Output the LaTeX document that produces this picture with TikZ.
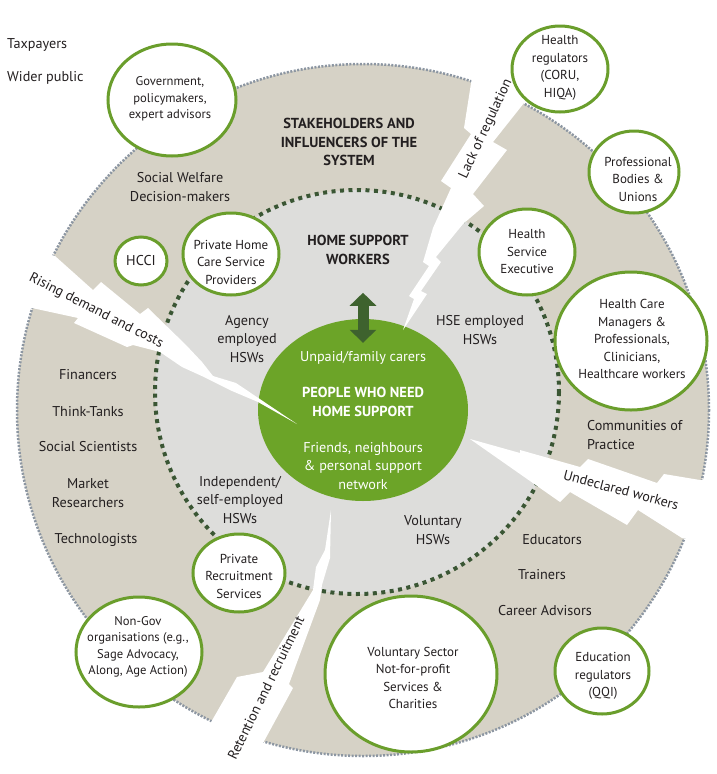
\documentclass[tikz,border=0pt]{standalone}
\usepackage{fontspec}
\setmainfont{PT Sans}
\usetikzlibrary{shapes.geometric,arrows.meta}

\definecolor{sand}{RGB}{214,210,198}
\definecolor{mist}{RGB}{221,221,219}
\definecolor{leaf}{RGB}{108,164,40}
\definecolor{rim}{RGB}{106,158,44}
\definecolor{pine}{RGB}{58,86,52}
\definecolor{moss}{RGB}{62,98,46}
\definecolor{slate}{RGB}{140,150,162}
\definecolor{ink}{RGB}{35,31,32}

\tikzset{
  txt/.style={text=ink, align=center, inner sep=0pt, font=\fontsize{14.2}{18.5}\selectfont},
  small/.style={text=ink, align=center, inner sep=0pt, font=\fontsize{13}{17.5}\selectfont},
  tiny/.style={text=ink, align=center, inner sep=0pt, font=\fontsize{12.6}{16.5}\selectfont},
  head/.style={txt, font=\fontsize{14.5}{18.5}\selectfont\bfseries},
  tag/.style={txt, font=\fontsize{14}{15}\selectfont},
  bubble/.style={ellipse, draw=rim, line width=3pt, fill=white, inner sep=0pt},
  crack/.style={fill=white},
  updown/.style={draw=moss, line width=11pt, arrows={Triangle[width=26pt,length=13pt]-Triangle[width=26pt,length=13pt]}},
}

\begin{document}
\begin{tikzpicture}[x=1pt,y=-1pt]
\useasboundingbox (0,0) rectangle (716,774);

% outer ring of stakeholders
\fill[sand] (363,410) circle[radius=346];
\draw[slate, line width=2.5pt, dash pattern=on 2pt off 1.5pt] (363,410) circle[radius=346];

% home support workers
\fill[mist] (357,392) circle[radius=202];
\draw[pine, line width=4pt, dash pattern=on 4pt off 4.5pt] (357,392) circle[radius=202];

\node[ellipse, fill=leaf, minimum width=210pt, minimum height=182pt] (people) at (363,410) {};

% cracks
\fill[crack] (478,40) -- (472,77) -- (464,128) -- (471,134) -- (441,181) -- (451,188)
  -- (433,228) -- (423,262) -- (429,266) -- (409,296) -- (414,299) -- (403,330)
  -- (427,294) -- (421,291) -- (441,262) -- (436,257) -- (463,224) -- (484,206)
  -- (473,194) -- (507,150) -- (493,142) -- (524,103) -- (545,40) -- cycle;
\fill[crack] (0,240) -- (55,256) -- (93,290) -- (101,282) -- (140,314) -- (148,308)
  -- (186,345) -- (202,362) -- (213,376) -- (236,383) -- (297,424)
  -- (258,402) -- (232,391) -- (204,377) -- (182,367) -- (160,352) -- (133,345)
  -- (127,347) -- (74,323) -- (78,318) -- (32,308) -- (0,304) -- cycle;
\fill[crack] (470,439) -- (520,453) -- (520,450) -- (580,467) -- (588,459) -- (657,483)
  -- (664,474) -- (700,480) -- (716,481) -- (716,545) -- (682,538) -- (638,510)
  -- (627,525) -- (570,492) -- (560,502) -- cycle;
\fill[crack] (331,510) -- (325,550) -- (316,567) -- (313,590) -- (263,672) -- (237,677)
  -- (210,724) -- (195,774) -- (255,774) -- (262,745) -- (293,688) -- (289,684)
  -- (320,600) -- (322,585) -- (330,558) -- cycle;

\draw[updown] ([yshift=-24pt]people.north) -- ([yshift=26pt]people.north);

% circles
\node[bubble, minimum width=128pt, minimum height=112pt] (gov) at (172,100) {};
\node[bubble, minimum width=52pt, minimum height=48pt] (hcci) at (141,261) {};
\node[bubble, minimum width=96pt, minimum height=82pt] (homecare) at (231,254) {};
\node[bubble, minimum width=96pt, minimum height=86pt] (hse) at (527,252) {};
\node[bubble, minimum width=96pt, minimum height=86pt] (healthreg) at (560,69) {};
\node[bubble, minimum width=90pt, minimum height=82pt] (profbody) at (634,172) {};
\node[bubble, minimum width=152pt, minimum height=138pt] (managers) at (631,341) {};
\node[bubble, minimum width=92pt, minimum height=78pt] (recruit) at (239,573) {};
\node[bubble, minimum width=126pt, minimum height=110pt] (nongov) at (139,652) {};
\node[bubble, minimum width=172pt, minimum height=156pt] (volsector) at (411,674) {};
\node[bubble, minimum width=94pt, minimum height=86pt] (edureg) at (602,671) {};

\node[tiny] (gov-t) at (170,99) {Government,\\policymakers,\\expert advisors};
\node[txt] (hcci-t) at (hcci) {HCCI};
\node[small] (homecare-t) at (231,262) {Private Home\\Care Service\\Providers};
\node[small] (hse-t) at (527,252) {Health\\Service\\Executive};
\node[small] (healthreg-t) at (560,68) {Health\\regulators\\(CORU,\\HIQA)};
\node[small] (profbody-t) at (638,179) {Professional\\Bodies \&\\Unions};
\node[small] (managers-t) at (632,339) {Health Care\\Managers \&\\Professionals,\\Clinicians,\\Healthcare workers};
\node[small] (recruit-t) at (239,576) {Private\\Recruitment\\Services};
\node[tiny] (nongov-t) at (138,647) {Non-Gov\\organisations (e.g.,\\Sage Advocacy,\\Along, Age Action)};
\node[small] (volsector-t) at (413,678) {Voluntary Sector\\Not-for-profit\\Services \&\\Charities};
\node[small] (edureg-t) at (603,676) {Education\\regulators\\(QQI)};

% centre
\node[txt, text=white] (unpaid) at (363,358) {Unpaid/family carers};
\node[head, text=white] (needs) at (363,402) {PEOPLE WHO NEED\\HOME SUPPORT};
\node[txt, text=white] (friends) at (363,466) {Friends, neighbours\\\& personal support\\network};

% labels
\node[txt, anchor=west] (taxpayers) at (7,45) {Taxpayers};
\node[txt, anchor=west] (public) at (7,78) {Wider public};
\node[head] (stakeholders) at (349,142) {STAKEHOLDERS AND\\INFLUENCERS OF THE\\SYSTEM};
\node[txt] (welfare) at (180,187) {Social Welfare\\Decision-makers};
\node[head] (workers) at (358,250) {HOME SUPPORT\\WORKERS};
\node[txt] (agency) at (247,339) {Agency\\employed\\HSWs};
\node[txt] (hsehsw) at (480,330) {HSE employed\\HSWs};
\node[txt] (independent) at (240,500) {Independent/\\self-employed\\HSWs};
\node[txt] (voluntary) at (433,530) {Voluntary\\HSWs};
\node[txt, anchor=west, align=left] (practice) at (587,435) {Communities of\\Practice};
\node[txt] (educators) at (552,540) {Educators};
\node[txt] (trainers) at (542,575) {Trainers};
\node[txt] (advisors) at (545,611) {Career Advisors};
\node[txt] (financers) at (88,375) {Financers};
\node[txt] (thinktanks) at (88,412) {Think-Tanks};
\node[txt] (scientists) at (88,447) {Social Scientists};
\node[txt] (market) at (88,493) {Market\\Researchers};
\node[txt] (technologists) at (96,540) {Technologists};

% crack labels
\node[tag, rotate=65] (lackreg) at (486,129) {Lack of regulation};
\node[tag, rotate=-27] (rising) at (96,311) {Rising demand and costs};
\node[tag, rotate=-15] (undeclared) at (621,490) {Undeclared workers};
\node[tag, rotate=64] (retention) at (266,688) {Retention and recruitment};
\end{tikzpicture}
\end{document}
